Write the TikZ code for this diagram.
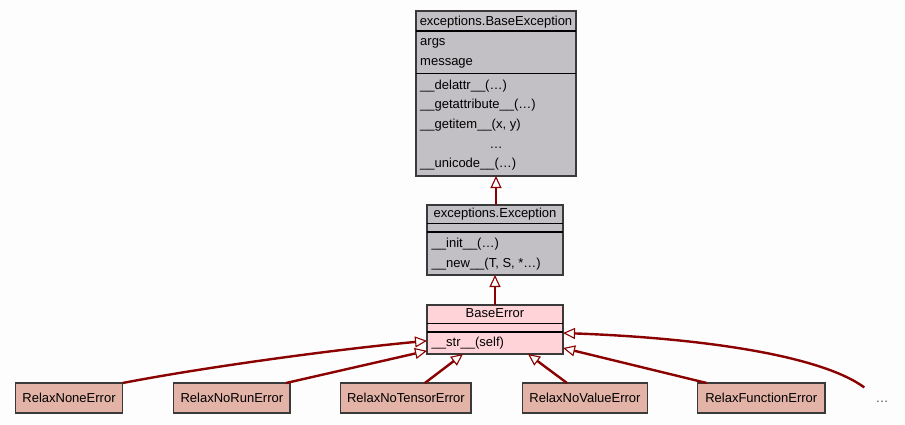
\documentclass[tikz,border=0pt]{standalone}
\usepackage{fontspec}
\setmainfont{Liberation Sans}
\usetikzlibrary{arrows.meta}

\definecolor{inh}{HTML}{8B0000}
\definecolor{boxline}{HTML}{3A3A3A}
\definecolor{extfill}{HTML}{C2C0C4}
\definecolor{basefill}{HTML}{FFD3D7}
\definecolor{subfill}{HTML}{E2B3A6}
\definecolor{pagebg}{HTML}{FCFDFC}

\begin{document}
\begin{tikzpicture}[x=1pt,y=-1pt,
  font=\fontsize{13}{15}\selectfont,
  umlclass/.style={draw=boxline, line width=1.3pt, inner sep=0pt, outer sep=0pt},
  leaf/.style={umlclass, fill=subfill, minimum height=30},
  label/.style={inner sep=0pt, anchor=base},
  member/.style={inner sep=0pt, anchor=base west},
  sepline/.style={draw=black, line width=1.6pt},
  inherit/.style={draw=inh, line width=2.4pt,
    -{Triangle[open, length=12pt, width=11pt, line width=1.1pt]}},
]
% canvas
\fill[pagebg] (0,0) rectangle (905,424);
\useasboundingbox (0,0) rectangle (905,424);

% exceptions.BaseException
\node[umlclass, fill=extfill, minimum width=160, minimum height=165] (bexc) at (496,93.5) {};
\node[label] (bexc-name) at (496,25.5) {exceptions.BaseException};
\draw[sepline] ([yshift=-20pt]bexc.north west) -- ([yshift=-20pt]bexc.north east);
\draw[sepline] ([yshift=-62.3pt]bexc.north west) -- ([yshift=-62.3pt]bexc.north east);
\node[member] (bexc-a1) at (420,45.5) {args};
\node[member] (bexc-a2) at (420,65) {message};
\node[member] (bexc-m1) at (420,89.5) {\_\_delattr\_\_(…)};
\node[member] (bexc-m2) at (420,108.5) {\_\_getattribute\_\_(…)};
\node[member] (bexc-m3) at (420,128) {\_\_getitem\_\_(x, y)};
\node[label] (bexc-m4) at (496,148) {…};
\node[member] (bexc-m5) at (420,167.5) {\_\_unicode\_\_(…)};

% exceptions.Exception
\node[umlclass, fill=extfill, minimum width=136, minimum height=70] (exc) at (495,240) {};
\node[label] (exc-name) at (495,217.7) {exceptions.Exception};
\draw[sepline] ([yshift=-18.3pt]exc.north west) -- ([yshift=-18.3pt]exc.north east);
\draw[sepline] ([yshift=-26.7pt]exc.north west) -- ([yshift=-26.7pt]exc.north east);
\node[member] (exc-m1) at (431.5,247.7) {\_\_init\_\_(…)};
\node[member] (exc-m2) at (431.5,267.7) {\_\_new\_\_(T, S, *…)};

% BaseError
\node[umlclass, fill=basefill, minimum width=136, minimum height=49] (berr) at (495,329.5) {};
\node[label] (berr-name) at (495,317.7) {BaseError};
\draw[sepline] ([yshift=-18.3pt]berr.north west) -- ([yshift=-18.3pt]berr.north east);
\draw[sepline] ([yshift=-26.7pt]berr.north west) -- ([yshift=-26.7pt]berr.north east);
\node[member] (berr-m1) at (431.5,346.7) {\_\_str\_\_(self)};

% derived classes
\node[leaf, minimum width=107.4] (none) at (69,398) {RelaxNoneError};
\node[leaf, minimum width=116.3] (norun) at (231.9,398) {RelaxNoRunError};
\node[leaf, minimum width=130.3] (tensor) at (405.9,398) {RelaxNoTensorError};
\node[leaf, minimum width=124.6] (value) at (585,398) {RelaxNoValueError};
\node[leaf, minimum width=127.3] (func) at (761.3,398) {RelaxFunctionError};
\node[label, text=black!70] (more) at (882,402) {…};

% inheritance arrows
\draw[inherit] (exc.north -| bexc.south) -- (bexc.south);
\draw[inherit] (berr.north -| exc.south) -- (exc.south);
\draw[inherit] (none.north east) .. controls (200,368) and (330,350) .. ([yshift=-11.3pt]berr.west);
\draw[inherit] ([xshift=-4pt]norun.north east) -- ([yshift=-21.3pt]berr.west);
\draw[inherit] ([xshift=19pt]tensor.north) -- ([xshift=-32pt]berr.south);
\draw[inherit] ([xshift=-18pt]value.north) -- ([xshift=33pt]berr.south);
\draw[inherit] ([xshift=9pt]func.north west) -- ([yshift=-18.5pt]berr.east);
\draw[inherit] ([xshift=-11pt,yshift=13pt]more.north west) .. controls (820,355) and (700,338) .. ([yshift=-3.5pt]berr.east);
\end{tikzpicture}
\end{document}
